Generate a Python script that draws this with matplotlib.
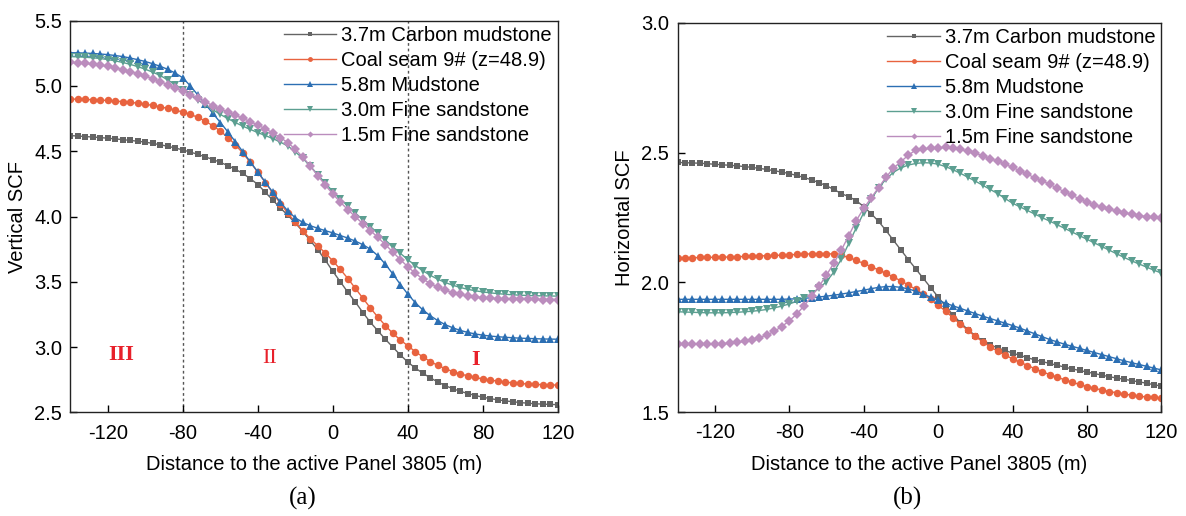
import numpy as np
import matplotlib
matplotlib.use('Agg')
import matplotlib.pyplot as plt

plt.rcParams['font.family'] = ['Liberation Sans', 'DejaVu Sans']
plt.rcParams['axes.unicode_minus'] = False

# distance to the active panel (m), one value every 4 m
distance = np.arange(-140, 121, 4)

labels = ['3.7m Carbon mudstone', 'Coal seam 9# (z=48.9)', '5.8m Mudstone',
          '3.0m Fine sandstone', '1.5m Fine sandstone']

# (a) vertical stress concentration factor
v_carbon = [4.620, 4.617, 4.613, 4.609, 4.605, 4.600, 4.595, 4.589, 4.583, 4.577,
            4.570, 4.560, 4.550, 4.538, 4.525, 4.510, 4.494, 4.476, 4.457, 4.437,
            4.415, 4.390, 4.362, 4.330, 4.290, 4.245, 4.185, 4.125, 4.065, 4.010,
            3.950, 3.885, 3.815, 3.745, 3.665, 3.580, 3.500, 3.420, 3.345, 3.265,
            3.190, 3.125, 3.060, 3.000, 2.940, 2.885, 2.840, 2.800, 2.765, 2.733,
            2.705, 2.682, 2.662, 2.645, 2.630, 2.617, 2.606, 2.597, 2.589, 2.582,
            2.576, 2.571, 2.567, 2.564, 2.562, 2.560]
v_coal = [4.900, 4.899, 4.897, 4.895, 4.892, 4.889, 4.885, 4.880, 4.875, 4.868,
          4.860, 4.851, 4.840, 4.828, 4.815, 4.800, 4.782, 4.760, 4.730, 4.695,
          4.655, 4.605, 4.550, 4.485, 4.415, 4.340, 4.260, 4.180, 4.100, 4.025,
          3.955, 3.890, 3.830, 3.775, 3.720, 3.660, 3.595, 3.525, 3.450, 3.375,
          3.300, 3.230, 3.165, 3.105, 3.055, 3.010, 2.965, 2.925, 2.890, 2.860,
          2.835, 2.813, 2.795, 2.780, 2.768, 2.757, 2.748, 2.740, 2.733, 2.727,
          2.722, 2.718, 2.715, 2.713, 2.711, 2.710]
v_mud = [5.255, 5.254, 5.252, 5.249, 5.245, 5.240, 5.233, 5.225, 5.214, 5.201,
         5.187, 5.170, 5.150, 5.127, 5.098, 5.062, 5.000, 4.930, 4.860, 4.790,
         4.720, 4.648, 4.573, 4.496, 4.418, 4.340, 4.262, 4.185, 4.110, 4.042,
         3.990, 3.955, 3.930, 3.910, 3.892, 3.875, 3.855, 3.835, 3.812, 3.785,
         3.750, 3.700, 3.635, 3.560, 3.480, 3.405, 3.340, 3.285, 3.240, 3.203,
         3.172, 3.148, 3.128, 3.113, 3.101, 3.092, 3.085, 3.080, 3.076, 3.072,
         3.069, 3.067, 3.065, 3.063, 3.062, 3.061]
v_sand30 = [5.225, 5.223, 5.220, 5.216, 5.210, 5.202, 5.192, 5.180, 5.165, 5.148,
            5.128, 5.105, 5.080, 5.045, 5.010, 4.970, 4.930, 4.892, 4.855, 4.818,
            4.782, 4.750, 4.720, 4.692, 4.667, 4.643, 4.620, 4.597, 4.570, 4.540,
            4.495, 4.445, 4.385, 4.320, 4.255, 4.192, 4.135, 4.080, 4.027, 3.975,
            3.924, 3.872, 3.820, 3.768, 3.718, 3.670, 3.625, 3.585, 3.550, 3.520,
            3.495, 3.474, 3.457, 3.443, 3.432, 3.423, 3.416, 3.410, 3.405, 3.401,
            3.398, 3.396, 3.394, 3.393, 3.392, 3.391]
v_sand15 = [5.180, 5.177, 5.173, 5.167, 5.160, 5.150, 5.138, 5.125, 5.110, 5.093,
            5.075, 5.055, 5.033, 5.010, 4.985, 4.960, 4.933, 4.905, 4.877, 4.850,
            4.825, 4.800, 4.776, 4.752, 4.727, 4.700, 4.672, 4.640, 4.605, 4.565,
            4.515, 4.455, 4.385, 4.312, 4.240, 4.172, 4.110, 4.052, 3.998, 3.945,
            3.893, 3.840, 3.785, 3.728, 3.670, 3.615, 3.565, 3.522, 3.487, 3.458,
            3.435, 3.418, 3.404, 3.393, 3.385, 3.379, 3.375, 3.372, 3.370, 3.368,
            3.367, 3.366, 3.366, 3.365, 3.365, 3.365]

# (b) horizontal stress concentration factor
h_carbon = [2.462, 2.461, 2.460, 2.459, 2.457, 2.455, 2.453, 2.451, 2.449, 2.446,
            2.443, 2.439, 2.435, 2.430, 2.425, 2.419, 2.412, 2.404, 2.395, 2.384,
            2.372, 2.358, 2.342, 2.330, 2.315, 2.292, 2.265, 2.235, 2.200, 2.162,
            2.125, 2.088, 2.052, 2.016, 1.980, 1.944, 1.908, 1.875, 1.845, 1.818,
            1.795, 1.775, 1.760, 1.748, 1.738, 1.728, 1.719, 1.710, 1.702, 1.695,
            1.688, 1.681, 1.674, 1.667, 1.661, 1.655, 1.649, 1.643, 1.637, 1.632,
            1.627, 1.622, 1.617, 1.612, 1.606, 1.601]
h_coal = [2.095, 2.095, 2.095, 2.096, 2.096, 2.097, 2.097, 2.098, 2.099, 2.100,
          2.101, 2.102, 2.103, 2.104, 2.105, 2.106, 2.108, 2.109, 2.110, 2.111,
          2.111, 2.109, 2.104, 2.096, 2.085, 2.073, 2.061, 2.048, 2.035, 2.021,
          2.006, 1.990, 1.973, 1.955, 1.935, 1.913, 1.889, 1.864, 1.839, 1.815,
          1.792, 1.771, 1.752, 1.735, 1.720, 1.706, 1.693, 1.680, 1.668, 1.656,
          1.645, 1.635, 1.625, 1.616, 1.607, 1.599, 1.592, 1.586, 1.580, 1.575,
          1.570, 1.566, 1.562, 1.559, 1.557, 1.555]
h_mud = [1.935, 1.935, 1.935, 1.935, 1.935, 1.935, 1.935, 1.935, 1.935, 1.935,
         1.935, 1.935, 1.935, 1.935, 1.935, 1.936, 1.937, 1.939, 1.941, 1.944,
         1.947, 1.951, 1.955, 1.960, 1.965, 1.970, 1.976, 1.981, 1.984, 1.984,
         1.981, 1.975, 1.966, 1.955, 1.943, 1.931, 1.920, 1.910, 1.900, 1.890,
         1.880, 1.870, 1.861, 1.852, 1.843, 1.834, 1.824, 1.813, 1.802, 1.791,
         1.780, 1.771, 1.762, 1.754, 1.746, 1.738, 1.730, 1.722, 1.714, 1.706,
         1.698, 1.691, 1.684, 1.677, 1.670, 1.663]
h_sand30 = [1.887, 1.886, 1.885, 1.884, 1.883, 1.883, 1.883, 1.884, 1.885, 1.887,
            1.889, 1.892, 1.896, 1.902, 1.909, 1.917, 1.927, 1.940, 1.956, 1.977,
            2.003, 2.040, 2.090, 2.150, 2.210, 2.268, 2.320, 2.363, 2.398, 2.424,
            2.441, 2.452, 2.458, 2.461, 2.460, 2.455, 2.446, 2.434, 2.420, 2.405,
            2.390, 2.374, 2.358, 2.342, 2.323, 2.305, 2.291, 2.277, 2.263, 2.249,
            2.236, 2.222, 2.208, 2.194, 2.180, 2.166, 2.152, 2.138, 2.124, 2.110,
            2.096, 2.083, 2.071, 2.059, 2.047, 2.036]
h_sand15 = [1.762, 1.762, 1.762, 1.762, 1.763, 1.763, 1.764, 1.766, 1.769, 1.773,
            1.779, 1.787, 1.798, 1.812, 1.830, 1.852, 1.878, 1.910, 1.946, 1.985,
            2.028, 2.075, 2.125, 2.180, 2.238, 2.285, 2.325, 2.365, 2.405, 2.440,
            2.465, 2.490, 2.510, 2.514, 2.516, 2.518, 2.520, 2.518, 2.512, 2.505,
            2.497, 2.488, 2.477, 2.466, 2.455, 2.443, 2.430, 2.417, 2.402, 2.390,
            2.378, 2.363, 2.349, 2.335, 2.322, 2.310, 2.299, 2.290, 2.282, 2.275,
            2.268, 2.262, 2.257, 2.253, 2.250, 2.247]

colors = ['#646464', '#e8633f', '#2c6fb3', '#5c9f91', '#bb8dbd']
markers = ['s', 'o', '^', 'v', 'D']
msizes = [5.0, 5.4, 6.0, 6.0, 4.8]

zone_x = [-113, -33.6, 76.3]
zone_y = [2.94, 2.91, 2.90]
zone_txt = ['III', 'II', 'I']
zone_bold = ['bold', 'normal', 'bold']
zone_bounds = [-80, 40]

FS = 14.5

fig = plt.figure(figsize=(11.86, 5.16), dpi=100)
ax1 = fig.add_axes([0.0594, 0.2006, 0.4110, 0.7593])
ax2 = fig.add_axes([0.5713, 0.2010, 0.4080, 0.7550])

panels = [
    (ax1, [v_carbon, v_coal, v_mud, v_sand30, v_sand15], 'Vertical SCF',
     (2.5, 5.5), np.arange(2.5, 5.51, 0.5), '(a)', 0.2555),
    (ax2, [h_carbon, h_coal, h_mud, h_sand30, h_sand15], 'Horizontal SCF',
     (1.5, 3.0), np.arange(1.5, 3.01, 0.5), '(b)', 0.7648),
]

for ax, series, ylab, ylim, yticks, tag, tag_x in panels:
    for vals, lab, c, m, ms in zip(series, labels, colors, markers, msizes):
        ax.plot(distance, vals, color=c, marker=m, markersize=ms, lw=1.0,
                markeredgewidth=0, label=lab)
    ax.set_xlim(-140, 120)
    ax.set_ylim(*ylim)
    ax.set_xticks(np.arange(-120, 121, 40))
    ax.set_yticks(yticks)
    ax.set_yticklabels([f'{t:.1f}' for t in yticks])
    ax.tick_params(direction='in', length=5, width=1, labelsize=FS, pad=6)
    ax.tick_params(axis='x', pad=8)
    for sp in ax.spines.values():
        sp.set_linewidth(1.0)
        sp.set_color('#222222')
    ax.set_xlabel('Distance to the active Panel 3805 (m)', fontsize=FS, labelpad=9)
    ax.set_ylabel(ylab, fontsize=FS, labelpad=5)
    fig.text(tag_x, 0.034, tag, ha='center', va='center',
             fontsize=18, family='Liberation Serif')
    ax.legend(loc='upper right', bbox_to_anchor=(0.998, 1.0), frameon=False,
              fontsize=FS, handlelength=2.6, handletextpad=0.25,
              labelspacing=0.3, borderpad=0.2, borderaxespad=0.05,
              markerscale=0.65)

for xb in zone_bounds:
    ax1.axvline(xb, color='#555555', ls=(0, (2, 2)), lw=1.0, zorder=0)

for zx, zy, zt, zw in zip(zone_x, zone_y, zone_txt, zone_bold):
    ax1.text(zx, zy, zt, color='#e8202a', fontsize=16, fontweight=zw,
             family='Liberation Serif', ha='center', va='center')

fig.savefig('out.png', dpi=100)
